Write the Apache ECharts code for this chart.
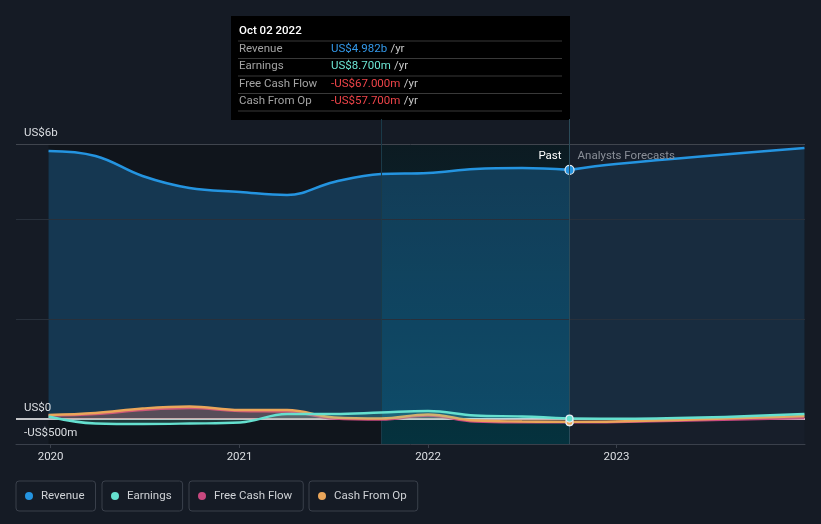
<!DOCTYPE html>
<html>
<head>
<meta charset="utf-8">
<script src="https://cdn.jsdelivr.net/npm/echarts@6/dist/echarts.min.js"></script>
<style>
  html, body { margin: 0; padding: 0; background: #151b25; }
  #chart { width: 821px; height: 524px; }
</style>
</head>
<body>
<div id="chart"></div>
<script>
// ---- data (values in US$ billions) ----
const pastDates = ['2019-12-28','2020-03-28','2020-06-27','2020-09-26','2021-01-02','2021-04-03','2021-07-03','2021-10-02','2022-01-01','2022-04-02','2022-07-02','2022-10-02'];
const forecastDates = ['2022-10-02','2022-12-31','2023-12-31'];

const revenuePast = [5.36, 5.26, 4.86, 4.62, 4.54, 4.48, 4.74, 4.90, 4.92, 5.00, 5.02, 4.982];
const revenueForecast = [4.982, 5.10, 5.42];

const earningsPast = [0.05, -0.09, -0.10, -0.09, -0.07, 0.10, 0.10, 0.13, 0.16, 0.07, 0.05, 0.0087];
const earningsForecast = [0.0087, 0.005, 0.10];

const fcfPast = [0.07, 0.10, 0.18, 0.22, 0.16, 0.15, 0.01, -0.01, 0.07, -0.05, -0.065, -0.067];
const fcfForecast = [-0.067, -0.06, 0.02];

const cfoPast = [0.08, 0.12, 0.21, 0.25, 0.18, 0.18, 0.03, 0.01, 0.09, -0.03, -0.05, -0.0577];
const cfoForecast = [-0.0577, -0.05, 0.06];

const seriesNames = ['Revenue', 'Earnings', 'Free Cash Flow', 'Cash From Op'];
const seriesColors = ['#2494e0', '#65e0cf', '#c8487f', '#eaa65a'];

const yTickLabels = { '-0.5': '-US$500m', '0': 'US$0', '5.5': 'US$6b' };
const gridValues = [2, 4];
const topGridValue = 5.5;

const highlightStart = '2021-10-02';
const nowDate = '2022-10-02';
const axisStart = '2019-10-26';
const axisEnd = '2024-01-01';

const tooltipTitle = 'Oct 02 2022';
const tooltipLabels = ['Revenue', 'Earnings', 'Free Cash Flow', 'Cash From Op'];
const tooltipValues = ['US$4.982b', 'US$8.700m', '-US$67.000m', '-US$57.700m'];
const tooltipValueColors = ['#3399ea', '#6de6d4', '#ee4449', '#ee4449'];

// ---- helpers ----
function pairs(ds, vs, markLast, color, big) {
  return ds.map((d, i) => {
    const item = { value: [d, vs[i]] };
    if (markLast && d === nowDate) {
      item.symbol = 'circle';
      item.symbolSize = big ? 9 : 7;
      item.itemStyle = { color: color, borderColor: '#e6eef5', borderWidth: 1.2 };
    }
    return item;
  });
}

function lineSeries(name, color, ds, vs, fillOpacity, z, markLast, big) {
  return {
    name: name,
    type: 'line',
    color: color,
    data: pairs(ds, vs, markLast, color, big),
    smooth: 0.4,
    symbol: 'none',
    showSymbol: true,
    showAllSymbol: true,
    z: z,
    lineStyle: { color: color, width: big ? 2.6 : 2.4 },
    itemStyle: { color: color },
    areaStyle: { color: color, opacity: fillOpacity },
    emphasis: { disabled: true },
    silent: true
  };
}

const series = [];

// background helper series with regions and gridlines
series.push({
  name: '_bg',
  type: 'line',
  data: pairs(pastDates, revenuePast, false),
  symbol: 'none',
  lineStyle: { opacity: 0 },
  silent: true,
  z: 1,
  markArea: {
    silent: true,
    label: { show: false },
    data: [
      [{ xAxis: pastDates[0], yAxis: -0.5, itemStyle: { color: '#10151c' } }, { xAxis: highlightStart, yAxis: topGridValue }],
      [{ xAxis: highlightStart, yAxis: -0.5, itemStyle: { color: { type: 'linear', x: 0, y: 0, x2: 0, y2: 1, colorStops: [{ offset: 0, color: '#0c1b22' }, { offset: 1, color: '#05323e' }] } } }, { xAxis: nowDate, yAxis: topGridValue }],
      [{ xAxis: nowDate, yAxis: -0.5, itemStyle: { color: '#171e2a' } }, { xAxis: forecastDates[forecastDates.length - 1], yAxis: topGridValue }]
    ]
  },
  markLine: {
    silent: true,
    symbol: ['none', 'none'],
    label: { show: false },
    data: [
      ...gridValues.map(v => ({ yAxis: v, lineStyle: { color: '#28303b', width: 1, type: 'solid' } })),
      { yAxis: topGridValue, lineStyle: { color: '#40454e', width: 1, type: 'solid' } },
      { xAxis: highlightStart, lineStyle: { color: '#1a3a48', width: 1, type: 'solid' } },
      { xAxis: nowDate, lineStyle: { color: '#2b4b59', width: 1, type: 'solid' } }
    ]
  },
  markPoint: {
    silent: true,
    symbol: 'circle',
    symbolSize: 0,
    data: [
      { coord: [nowDate, 5.26], label: { show: true, formatter: 'Past', position: 'left', distance: 8, color: '#ffffff', fontSize: 11.5, fontFamily: 'Roboto' } },
      { coord: [nowDate, 5.26], label: { show: true, formatter: 'Analysts Forecasts', position: 'right', distance: 8, color: '#8a8f98', fontSize: 11.5, fontFamily: 'Roboto' } }
    ]
  }
});

series.push(lineSeries('Revenue', seriesColors[0], pastDates, revenuePast, 0.27, 4, true, true));
series.push(lineSeries('Revenue', seriesColors[0], forecastDates, revenueForecast, 0.12, 4, false, true));
series.push(lineSeries('Free Cash Flow', seriesColors[2], pastDates, fcfPast, 0.2, 5, true, false));
series.push(lineSeries('Free Cash Flow', seriesColors[2], forecastDates, fcfForecast, 0.1, 5, false, false));
series.push(lineSeries('Cash From Op', seriesColors[3], pastDates, cfoPast, 0.18, 6, true, false));
series.push(lineSeries('Cash From Op', seriesColors[3], forecastDates, cfoForecast, 0.08, 6, false, false));
series.push(lineSeries('Earnings', seriesColors[1], pastDates, earningsPast, 0.18, 7, true, false));
series.push(lineSeries('Earnings', seriesColors[1], forecastDates, earningsForecast, 0.08, 7, false, false));

// zero line on top
series.push({
  name: '_zero',
  type: 'line',
  data: [],
  silent: true,
  z: 10,
  markLine: {
    silent: true,
    symbol: ['none', 'none'],
    label: { show: false },
    data: [{ yAxis: 0, lineStyle: { color: '#ffffff', width: 1.5, type: 'solid' } }]
  }
});

// legends: one bordered box per series
const legendLefts = [16, 102, 189, 309];
const legends = seriesNames.map((n, i) => ({
  show: true,
  data: [{ name: n, icon: 'circle' }],
  left: legendLefts[i],
  top: 481,
  orient: 'horizontal',
  padding: [9, 11, 9, 9],
  itemWidth: 14,
  itemHeight: 8,
  borderColor: '#3a404b',
  borderWidth: 1,
  borderRadius: 3,
  textStyle: { color: '#cfd2d6', fontSize: 11.5, fontFamily: 'Roboto' }
}));

// tooltip-like static box
const tipX = 231, tipY = 16, tipW = 339, tipH = 104;
const rowYs = [49, 66.5, 84, 101];
const sepYs = [41, 58.5, 76, 93.5, 111];
const graphic = [
  { type: 'rect', shape: { x: tipX, y: tipY, width: tipW, height: tipH }, style: { fill: '#000000' }, silent: true },
  { type: 'text', x: 239, y: 31, style: { text: tooltipTitle, fill: '#ffffff', font: '500 11.5px Roboto', verticalAlign: 'middle' }, silent: true }
];
sepYs.forEach(y => graphic.push({ type: 'line', shape: { x1: 238, y1: y, x2: 562, y2: y }, style: { stroke: '#393939', lineWidth: 1 }, silent: true }));
tooltipLabels.forEach((t, i) => {
  graphic.push({ type: 'text', x: 239, y: rowYs[i], style: { text: t, fill: '#a3a3a3', font: '11.5px Roboto', verticalAlign: 'middle' }, silent: true });
  graphic.push({
    type: 'text', x: 331, y: rowYs[i], silent: true,
    style: {
      text: '{v|' + tooltipValues[i] + '} {u|/yr}',
      verticalAlign: 'middle',
      rich: {
        v: { fill: tooltipValueColors[i], fontSize: 11.5, fontFamily: 'Roboto' },
        u: { fill: '#c8c8c8', fontSize: 11.5, fontFamily: 'Roboto' }
      }
    }
  });
});

const option = {
  backgroundColor: '#151b25',
  animation: false,
  textStyle: { fontFamily: 'Roboto' },
  grid: { left: 16, right: 16, top: 119, bottom: 80, containLabel: false },
  legend: legends,
  xAxis: {
    type: 'time',
    min: axisStart,
    max: axisEnd,
    minInterval: 365 * 24 * 3600 * 1000,
    maxInterval: 366 * 24 * 3600 * 1000,
    axisLine: { show: true, onZero: false, lineStyle: { color: '#3a404b', width: 1 } },
    axisTick: { show: true, length: 4, lineStyle: { color: '#3a404b' } },
    splitLine: { show: false },
    axisLabel: {
      color: '#dcdfe3', fontSize: 11.5, margin: 7, fontFamily: 'Roboto',
      showMinLabel: false, showMaxLabel: false,
      formatter: function (value) {
        const d = new Date(value);
        return (d.getMonth() === 0 && d.getDate() === 1) ? String(d.getFullYear()) : '';
      }
    }
  },
  yAxis: {
    type: 'value',
    z: 20,
    min: -0.5,
    max: 6,
    interval: 0.5,
    axisLine: { show: false },
    axisTick: { show: false },
    splitLine: { show: false },
    axisLabel: {
      inside: true,
      margin: 8,
      align: 'left',
      verticalAlign: 'bottom',
      padding: [0, 0, 5, 0],
      color: '#dcdfe3',
      fontSize: 11.5,
      fontFamily: 'Roboto',
      formatter: function (v) {
        const key = String(Math.round(v * 10) / 10);
        return yTickLabels[key] || '';
      }
    }
  },
  graphic: graphic,
  series: series
};

const chart = echarts.init(document.getElementById('chart'), null, { renderer: 'canvas' });
chart.setOption(option);
</script>
</body>
</html>
